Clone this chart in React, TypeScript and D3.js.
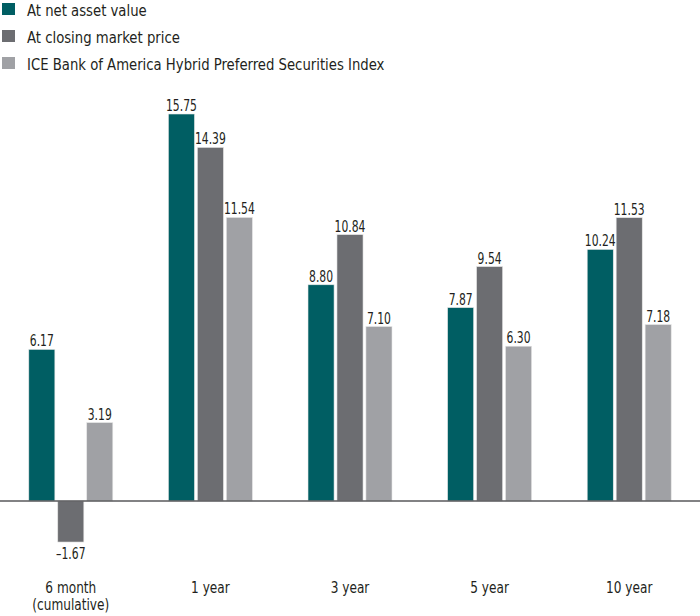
import React from "react";
import * as d3 from "d3";

const categories = ["6 month\n(cumulative)", "1 year", "3 year", "5 year", "10 year"];
const seriesNames = [
  "At net asset value",
  "At closing market price",
  "ICE Bank of America Hybrid Preferred Securities Index",
];
const navValues = [6.17, 15.75, 8.8, 7.87, 10.24];
const marketValues = [-1.67, 14.39, 10.84, 9.54, 11.53];
const indexValues = [3.19, 11.54, 7.1, 6.3, 7.18];
const colors = ["#005E63", "#6C6D71", "#A0A1A5"];

const W = 700;
const H = 616;

export default function App() {
  const series = [navValues, marketValues, indexValues];
  const x0 = d3.scaleBand<string>().domain(categories).range([1, 699]).paddingInner(0).paddingOuter(0);
  const x1 = d3
    .scaleBand<number>()
    .domain([0, 1, 2])
    .range([0, 84])
    .paddingInner(0.1)
    .paddingOuter(0);
  const y = d3.scaleLinear().domain([0, 15.75]).range([501, 114]);
  const font = "'DejaVu Sans', sans-serif";
  const fmt = (v: number) => (v < 0 ? "\u2013" + Math.abs(v).toFixed(2) : v.toFixed(2));

  return (
    <svg
      width={W}
      height={H}
      style={{ position: "absolute", left: 0, top: 0, background: "#fff", fontStretch: "condensed" }}
      fontFamily={font}
    >
      {seriesNames.map((n, i) => (
        <g key={n} transform={`translate(0,${i * 27})`}>
          <rect x={2} y={3} width={13} height={12} fill={colors[i]} />
          <text transform="translate(27,15.5) scale(0.92,1)" fontSize={16} fill="#231F20">
            {n}
          </text>
        </g>
      ))}
      {categories.map((c, ci) => {
        const gx = (x0(c) as number) + x0.bandwidth() / 2 - 42;
        return (
          <g key={c} transform={`translate(${gx},0)`}>
            {series.map((s, si) => {
              const v = s[ci];
              const bx = x1(si) as number;
              const bw = x1.bandwidth();
              const top = Math.min(y(v), y(0));
              const h = Math.abs(y(v) - y(0));
              const ty = v >= 0 ? y(v) - 3 : y(v) + 16.5;
              return (
                <g key={si}>
                  <rect x={bx} y={top} width={bw} height={h} fill={colors[si]} stroke="#e6e6e6" strokeWidth={0.6} />
                  <text
                    transform={`translate(${bx + bw / 2},${ty}) scale(0.8,1)`}
                    textAnchor="middle"
                    fontSize={15}
                    fill="#231F20"
                  >
                    {fmt(v)}
                  </text>
                </g>
              );
            })}
            {c.split("\n").map((line, li) => (
              <text
                key={li}
                transform={`translate(42,${593 + li * 17}) scale(0.9,1)`}
                textAnchor="middle"
                fontSize={15}
                fill="#231F20"
              >
                {line}
              </text>
            ))}
          </g>
        );
      })}
      <line x1={0} x2={W} y1={y(0)} y2={y(0)} stroke="#58595B" strokeWidth={1.5} />
    </svg>
  );
}
